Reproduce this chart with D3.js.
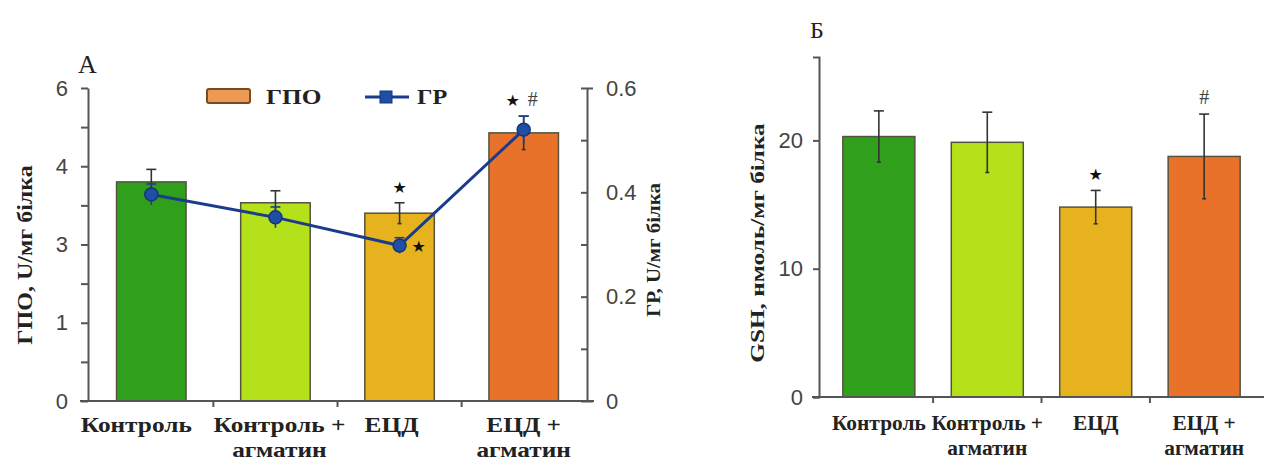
<!DOCTYPE html>
<html>
<head>
<meta charset="utf-8">
<script src="https://cdn.jsdelivr.net/npm/d3@7"></script>
<style>
  body { margin: 0; background: #fff; }
  svg { display: block; }
</style>
</head>
<body>
<div id="chart"></div>
<script>
// groups (shared by both panels)
const groups = ['Контроль', 'Контроль + агматин', 'ЕЦД', 'ЕЦД + агматин'];
const groupLines = [['Контроль'], ['Контроль +', 'агматин'], ['ЕЦД'], ['ЕЦД +', 'агматин']];
const barColors = ['#2f9f1c', '#b5e11b', '#e6b31f', '#e8722a'];

// panel A: ГПО (bars, left axis) and ГР (line, right axis)
const gpo = [4.2, 3.8, 3.6, 5.14];
const gpoErr = [0.24, 0.23, 0.2, 0.32];
const gr = [0.396, 0.352, 0.298, 0.52];
const grErr = [0.02, 0.02, 0.015, 0.026];
const gpoMarks = ['', '', '★', '★ #'];
const grMarks = ['', '', '★', ''];
const leftTicks = [0, 0.75, 1.5, 2.25, 3, 3.75, 4.5, 5.25, 6];
const leftTickLabels = { 0: '0', 1.5: '1', 3: '3', 4.5: '4', 6: '6' };
const rightTicks = [0, 0.1, 0.2, 0.3, 0.4, 0.5, 0.6];

// panel B: GSH
const gsh = [20.3, 19.85, 14.8, 18.75];
const gshErr = [2.0, 2.35, 1.3, 3.3];
const gshMarks = ['', '', '★', '#'];
const gshTicks = [0, 10, 20];

const W = 1264, H = 461;
const serif = '"Liberation Serif", "DejaVu Serif", serif';
const sans = '"Liberation Sans", Arial, sans-serif';
const axisColor = '#555';

const svg = d3.select('#chart').append('svg')
  .attr('width', W).attr('height', H)
  .attr('viewBox', [0, 0, W, H]);

function styleAxis(g) {
  g.select('.domain').attr('stroke', axisColor).attr('stroke-width', 2);
  g.selectAll('.tick line').attr('stroke', axisColor).attr('stroke-width', 2);
  g.selectAll('.tick text')
    .attr('fill', '#444')
    .style('font-family', sans)
    .style('font-size', '22px');
}

// bold serif text, stretched a bit along its length like the scanned figure
function boldText(g, t, size, stretch) {
  const el = g.append('text')
    .style('font-family', serif)
    .style('font-weight', 'bold')
    .style('font-size', size + 'px')
    .attr('fill', '#222')
    .text(t);
  if (stretch) {
    const len = el.node().getComputedTextLength();
    el.attr('textLength', len * stretch).attr('lengthAdjust', 'spacingAndGlyphs');
  }
  return el;
}

function drawBars(g, x, y, vals, errs) {
  g.append('g').selectAll('rect')
    .data(vals)
    .join('rect')
    .attr('x', (d, i) => x(groups[i]))
    .attr('y', d => y(d))
    .attr('width', x.bandwidth())
    .attr('height', d => y(0) - y(d))
    .attr('fill', (d, i) => barColors[i])
    .attr('stroke', '#55523f')
    .attr('stroke-width', 1.5);

  const eb = g.append('g').attr('stroke', '#333').attr('stroke-width', 1.6);
  vals.forEach((v, i) => {
    const cx = x(groups[i]) + x.bandwidth() / 2;
    eb.append('line').attr('x1', cx).attr('x2', cx)
      .attr('y1', y(v - errs[i])).attr('y2', y(v + errs[i]));
    eb.append('line').attr('x1', cx - 5).attr('x2', cx + 5)
      .attr('y1', y(v + errs[i])).attr('y2', y(v + errs[i]));
    eb.append('line').attr('x1', cx - 2).attr('x2', cx + 2)
      .attr('y1', y(v - errs[i])).attr('y2', y(v - errs[i]));
  });
}

function drawCategoryLabels(g, x, yTop, size, stretch, shifts) {
  groupLines.forEach((lines, i) => {
    const cx = x(groups[i]) + x.bandwidth() / 2 + (shifts ? shifts[i] : 0);
    lines.forEach((t, j) => {
      boldText(g, t, size, stretch)
        .attr('x', cx).attr('y', yTop + j * 25)
        .attr('text-anchor', 'middle');
    });
  });
}

function drawMarks(g, x, y, vals, errs, marks) {
  marks.forEach((m, i) => {
    if (!m) return;
    const cx = x(groups[i]) + x.bandwidth() / 2;
    const top = y(vals[i] + errs[i]) - 10;
    const parts = m.split(' ');
    const offs = parts.length > 1 ? [-11, 9] : [0];
    parts.forEach((p, k) => {
      g.append('text')
        .attr('x', cx + offs[k]).attr('y', top)
        .attr('text-anchor', 'middle')
        .style('font-family', p === '#' ? serif : '"DejaVu Sans", sans-serif')
        .style('font-size', p === '#' ? '20px' : '16px')
        .attr('fill', p === '#' ? '#444' : '#111')
        .text(p);
    });
  });
}

// ---------- Panel A ----------
const A = svg.append('g');
const xA = d3.scaleBand(groups, [88, 587]).paddingInner(0.44).paddingOuter(0.23);
const yL = d3.scaleLinear([0, 6], [401, 88]);
const yR = d3.scaleLinear([0, 0.6], [401, 88]);

drawBars(A, xA, yL, gpo, gpoErr);

// x axis line with ticks at the band boundaries
const stepA = xA.step();
const bndA = groups.slice(0, -1).map(g => xA(g) + xA.bandwidth() + stepA * xA.paddingInner() / 2);
A.append('line').attr('x1', 80).attr('x2', 594).attr('y1', yL(0)).attr('y2', yL(0))
  .attr('stroke', axisColor).attr('stroke-width', 2);
A.append('g').selectAll('line').data(bndA).join('line')
  .attr('x1', d => d).attr('x2', d => d).attr('y1', yL(0)).attr('y2', yL(0) + 6)
  .attr('stroke', axisColor).attr('stroke-width', 2);

A.append('g')
  .attr('transform', 'translate(88,0)')
  .call(d3.axisLeft(yL).tickValues(leftTicks).tickSize(7).tickSizeOuter(0).tickPadding(13)
    .tickFormat(d => leftTickLabels[d] || ''))
  .call(styleAxis);

A.append('g')
  .attr('transform', 'translate(587,0)')
  .call(d3.axisRight(yR).tickValues(rightTicks).tickSize(-6).tickSizeOuter(6).tickPadding(19)
    .tickFormat(d => Math.round(d * 10) % 2 === 0 ? d3.format('~g')(d) : ''))
  .call(styleAxis);

// ГР line with error bars and markers
const cxA = i => xA(groups[i]) + xA.bandwidth() / 2;
const grErrG = A.append('g').attr('stroke', '#1d3f8a').attr('stroke-width', 1.6);
gr.forEach((v, i) => {
  grErrG.append('line').attr('x1', cxA(i)).attr('x2', cxA(i)).attr('y1', yR(v - grErr[i])).attr('y2', yR(v + grErr[i]));
  grErrG.append('line').attr('x1', cxA(i) - 5).attr('x2', cxA(i) + 5).attr('y1', yR(v + grErr[i])).attr('y2', yR(v + grErr[i]));
});
A.append('path')
  .datum(gr)
  .attr('fill', 'none')
  .attr('stroke', '#1b3c8c')
  .attr('stroke-width', 3)
  .attr('d', d3.line().x((d, i) => cxA(i)).y(d => yR(d)));
A.append('g').selectAll('circle').data(gr).join('circle')
  .attr('cx', (d, i) => cxA(i)).attr('cy', d => yR(d)).attr('r', 6.5)
  .attr('fill', '#1f4ea5').attr('stroke', '#163578').attr('stroke-width', 1.5);

drawMarks(A, xA, yL, gpo, gpoErr, gpoMarks);
grMarks.forEach((m, i) => {
  if (!m) return;
  A.append('text').attr('x', cxA(i) + 19).attr('y', yR(gr[i]) + 6)
    .attr('text-anchor', 'middle').style('font-family', '"DejaVu Sans", sans-serif')
    .style('font-size', '16px').attr('fill', '#111').text(m);
});

drawCategoryLabels(A, xA, 432, 22, 1.15, [-15, 4, -8, 0]);

// legend
const leg = A.append('g');
leg.append('rect').attr('x', 207).attr('y', 89).attr('width', 43).attr('height', 14).attr('rx', 2)
  .attr('fill', '#ec9a55').attr('stroke', '#7a4a20').attr('stroke-width', 2);
boldText(leg, 'ГПО', 22, 1.15).attr('x', 266).attr('y', 104);
leg.append('line').attr('x1', 365).attr('x2', 409).attr('y1', 97).attr('y2', 97)
  .attr('stroke', '#1b3c8c').attr('stroke-width', 3);
leg.append('rect').attr('x', 380).attr('y', 91).attr('width', 12).attr('height', 12)
  .attr('fill', '#1f4ea5').attr('stroke', '#163578');
boldText(leg, 'ГР', 22, 1.1).attr('x', 417).attr('y', 104);

// axis titles and panel letter
boldText(A, 'ГПО, U/мг білка', 20, 1.2)
  .attr('transform', 'translate(32,255) rotate(-90)').attr('text-anchor', 'middle');
boldText(A, 'ГР, U/мг білка', 19, 1.1)
  .attr('transform', 'translate(660,250) rotate(-90)').attr('text-anchor', 'middle');
A.append('text').attr('x', 78).attr('y', 73).style('font-family', serif)
  .style('font-size', '26px').attr('fill', '#222').text('А');

// ---------- Panel B ----------
const B = svg.append('g');
const xB = d3.scaleBand(groups, [819, 1264]).paddingInner(0.336).paddingOuter(0.22);
const yB = d3.scaleLinear([0, 26.5], [397, 57]);

drawBars(B, xB, yB, gsh, gshErr);

const stepB = xB.step();
const bndB = groups.slice(0, -1).map(g => xB(g) + xB.bandwidth() + stepB * xB.paddingInner() / 2);
B.append('line').attr('x1', 812).attr('x2', 1264).attr('y1', yB(0)).attr('y2', yB(0))
  .attr('stroke', axisColor).attr('stroke-width', 2);
B.append('g').selectAll('line').data(bndB).join('line')
  .attr('x1', d => d).attr('x2', d => d).attr('y1', yB(0)).attr('y2', yB(0) + 6)
  .attr('stroke', axisColor).attr('stroke-width', 2);

B.append('g')
  .attr('transform', 'translate(819,0)')
  .call(d3.axisLeft(yB).tickValues(gshTicks).tickSize(6).tickSizeOuter(6).tickPadding(10))
  .call(styleAxis);

drawMarks(B, xB, yB, gsh, gshErr, gshMarks);
drawCategoryLabels(B, xB, 430, 20, 1.07, null);

boldText(B, 'GSH, нмоль/мг білка', 18, 1.4)
  .attr('transform', 'translate(764,243) rotate(-90)').attr('text-anchor', 'middle');
B.append('text').attr('x', 810).attr('y', 38).style('font-family', serif)
  .style('font-size', '24px').attr('fill', '#222').text('Б');
</script>
</body>
</html>
